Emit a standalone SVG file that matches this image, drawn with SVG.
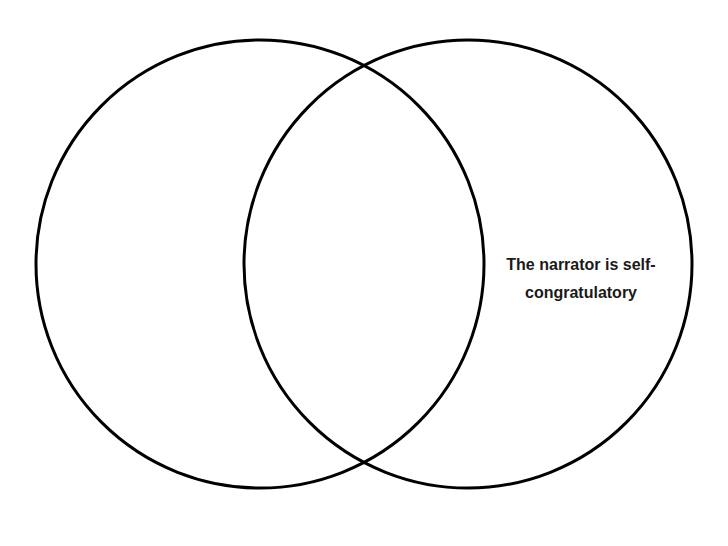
<svg xmlns="http://www.w3.org/2000/svg" width="728" height="546" viewBox="0 0 728 546">
<style>
.c{fill:none;stroke:#000;stroke-width:3}
.t{font-family:"Liberation Sans",Arial,sans-serif;font-weight:bold;font-size:16px;fill:#1a1a1a;text-anchor:middle}
</style>
<rect width="728" height="546" fill="#fff"/>
<g id="left-circle"><circle class="c" cx="260" cy="264" r="224"/></g>
<g id="right-circle"><circle class="c" cx="468" cy="264" r="224"/>
<text class="t" x="581" y="270">The narrator is self-</text>
<text class="t" x="581" y="298">congratulatory</text></g>
<g id="connectors"/>
</svg>
